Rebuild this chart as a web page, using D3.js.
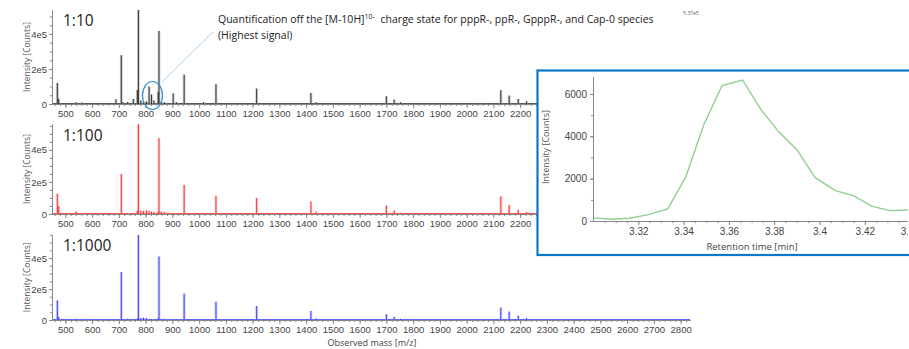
<!DOCTYPE html>
<html>
<head>
<meta charset="utf-8">
<script src="https://cdnjs.cloudflare.com/ajax/libs/d3/7.8.5/d3.min.js"></script>
<style>
  body { margin: 0; background: #fff; }
  svg { display: block; font-family: "Open Sans", sans-serif; }
  .tick text { fill: #444; }
</style>
</head>
<body>
<div id="chart"></div>
<script>
// peak list (m/z) shared by the three dilutions
const peakMz = [470, 475, 540, 562, 689, 709, 715, 733, 754, 769, 773, 782, 792, 803, 813, 822, 831, 847, 850, 858, 870, 884, 903, 915, 944, 1016, 1063, 1215, 1418, 1437, 1700, 1729, 1753, 2040, 2070, 2128, 2159, 2193, 2224, 2260];
const int10 = [1.2e5, 0.3e5, 0.1e5, 0.08e5, 0.27e5, 2.79e5, 0.1e5, 0.12e5, 0.29e5, 0.8e5, 5.37e5, 0.2e5, 0.1e5, 0.15e5, 1.0e5, 0.54e5, 0.2e5, 0.7e5, 4.17e5, 0.12e5, 0.1e5, 0.06e5, 0.6e5, 0.1e5, 1.68e5, 0.1e5, 1.13e5, 0.88e5, 0.63e5, 0.1e5, 0.44e5, 0.25e5, 0.1e5, 0.05e5, 0.05e5, 0.79e5, 0.48e5, 0.29e5, 0.15e5, 0.05e5];
const int100 = [1.26e5, 0.5e5, 0.15e5, 0.06e5, 0.03e5, 2.5e5, 0.05e5, 0.06e5, 0.05e5, 0.2e5, 5.6e5, 0.22e5, 0.2e5, 0.22e5, 0.2e5, 0.15e5, 0.12e5, 0.15e5, 4.73e5, 0.15e5, 0.12e5, 0.08e5, 0.04e5, 0.03e5, 1.82e5, 0.03e5, 1.14e5, 1.0e5, 0.78e5, 0.15e5, 0.53e5, 0.22e5, 0.08e5, 0.03e5, 0.03e5, 1.1e5, 0.56e5, 0.27e5, 0.12e5, 0.04e5];
const int1000 = [1.26e5, 0.2e5, 0.08e5, 0.08e5, 0.03e5, 3.09e5, 0.06e5, 0.08e5, 0.04e5, 0.1e5, 5.49e5, 0.12e5, 0.15e5, 0.12e5, 0.06e5, 0.05e5, 0.05e5, 0.1e5, 4.1e5, 0.08e5, 0.08e5, 0.06e5, 0.03e5, 0.03e5, 1.7e5, 0.03e5, 1.18e5, 0.9e5, 0.59e5, 0.1e5, 0.37e5, 0.2e5, 0.08e5, 0.03e5, 0.03e5, 0.8e5, 0.54e5, 0.28e5, 0.12e5, 0.05e5];

// extracted ion chromatogram in the inset
const rtMin = [3.3003, 3.3084, 3.316, 3.324, 3.333, 3.341, 3.349, 3.357, 3.366, 3.374, 3.382, 3.390, 3.398, 3.407, 3.415, 3.423, 3.431, 3.44];
const eicCounts = [150, 85, 130, 290, 570, 2090, 4570, 6400, 6660, 5280, 4210, 3365, 2060, 1435, 1200, 700, 490, 525];

const massTicks = d3.range(500, 2801, 100);
const intensityTicks = [0, 2e5, 4e5];
const rtTicks = [3.32, 3.34, 3.36, 3.38, 3.4, 3.42, 3.44];
const countTicks = [0, 2000, 4000, 6000];

const W = 909, H = 349;
// inset frame, it hides the right end of the two upper spectra
const box = { x: 537.5, y: 70.5, w: 380, h: 184.5 };

const svg = d3.select('#chart')
  .append('svg')
  .attr('width', W)
  .attr('height', H);

const x = d3.scaleLinear().domain([450, 2835]).range([52, 690]);

const panels = [
  { name: '1:10', values: int10, top: 10, bottom: 104, max: 5.37e5, line: '#111', halo: '#a8a8a8', nameY: 26 },
  { name: '1:100', values: int100, top: 124, bottom: 214, max: 5.62e5, line: '#f01010', halo: '#ffa8a8', nameY: 141 },
  { name: '1:1000', values: int1000, top: 234.5, bottom: 320, max: 5.52e5, line: '#2020f0', halo: '#aaaaff', nameY: 251 }
];

function styleAxis(g) {
  g.select('.domain').attr('stroke', '#888');
  g.selectAll('.tick line').attr('stroke', '#888');
  g.selectAll('.tick text').attr('font-size', 9.5);
}

// minor ticks: no labels at all
function minor(g) {
  styleAxis(g);
  g.selectAll('.tick text').remove();
}

panels.forEach((p, pi) => {
  const y = d3.scaleLinear().domain([0, p.max]).range([p.bottom, p.top]);
  const g = svg.append('g');
  // upper panels only show mass ticks left of the inset
  const shownTicks = pi < 2 ? massTicks.filter(m => x(m) < box.x - 10) : massTicks;

  g.append('g')
    .attr('transform', `translate(0,${p.bottom})`)
    .call(d3.axisBottom(x).tickValues(d3.range(460, 2835, 20)).tickSize(2).tickSizeOuter(0))
    .call(minor);
  g.append('g')
    .attr('transform', `translate(${x.range()[0]},0)`)
    .call(d3.axisLeft(y).tickValues(d3.range(0, p.max, 5e4)).tickSize(2).tickSizeOuter(0))
    .call(minor);

  g.append('g')
    .attr('transform', `translate(0,${p.bottom})`)
    .call(d3.axisBottom(x).tickValues(shownTicks).tickSize(4).tickPadding(2).tickSizeOuter(0).tickFormat(d3.format('d')))
    .call(styleAxis);
  g.append('g')
    .attr('transform', `translate(${x.range()[0]},0)`)
    .call(d3.axisLeft(y).tickValues(intensityTicks).tickSize(3).tickPadding(2).tickSizeOuter(0)
      .tickFormat(d => d === 0 ? '0' : (d / 1e5) + 'e5'))
    .call(styleAxis);

  // spectrum baseline in series colour
  g.append('line')
    .attr('x1', x.range()[0] + 1).attr('x2', x.range()[1])
    .attr('y1', p.bottom - 0.5).attr('y2', p.bottom - 0.5)
    .attr('stroke', p.line).attr('stroke-width', 1).attr('opacity', 0.7);

  const peaks = peakMz.map((m, i) => ({ mz: m, v: p.values[i] }));

  g.append('g').selectAll('rect')
    .data(peaks)
    .join('rect')
    .attr('x', d => x(d.mz) - 1.4)
    .attr('width', 2.8)
    .attr('y', d => y(d.v))
    .attr('height', d => p.bottom - y(d.v))
    .attr('fill', p.halo)
    .attr('opacity', 0.6);

  g.append('g').selectAll('line')
    .data(peaks)
    .join('line')
    .attr('x1', d => x(d.mz)).attr('x2', d => x(d.mz))
    .attr('y1', d => y(d.v)).attr('y2', p.bottom)
    .attr('stroke', p.line)
    .attr('stroke-width', 0.8);

  g.append('text')
    .attr('x', 63).attr('y', p.nameY)
    .attr('font-size', 15.5)
    .attr('fill', '#222')
    .text(p.name);

  g.append('text')
    .attr('transform', `translate(30,${(p.top + p.bottom) / 2}) rotate(-90)`)
    .attr('text-anchor', 'middle')
    .attr('font-size', 8.5)
    .attr('fill', '#555')
    .text('Intensity [Counts]');
});

svg.append('text')
  .attr('x', 372).attr('y', 346)
  .attr('text-anchor', 'middle')
  .attr('font-size', 9)
  .attr('fill', '#444')
  .text('Observed mass [m/z]');

// annotation for the 813 cluster
svg.append('ellipse')
  .attr('cx', 152.5).attr('cy', 95.5)
  .attr('rx', 10).attr('ry', 14)
  .attr('fill', 'none')
  .attr('stroke', '#2e8fd0')
  .attr('stroke-width', 1.2);
svg.append('line')
  .attr('x1', 162).attr('y1', 82)
  .attr('x2', 213).attr('y2', 32)
  .attr('stroke', '#a9d5ef')
  .attr('stroke-width', 1);

const note = svg.append('text')
  .attr('x', 218).attr('y', 23)
  .attr('font-size', 10.5)
  .attr('fill', '#222');
note.append('tspan').text('Quantification off the [M-10H]');
note.append('tspan').attr('font-size', 7).attr('dy', -4).text('10-');
note.append('tspan').attr('dy', 4).attr('dx', 3).text(' charge state for pppR-, ppR-, GpppR-, and Cap-0 species');

svg.append('text')
  .attr('x', 218).attr('y', 38.5)
  .attr('font-size', 10.5)
  .attr('fill', '#222')
  .text('(Highest signal)');

svg.append('text')
  .attr('x', 683).attr('y', 15)
  .attr('font-size', 5)
  .attr('fill', '#555')
  .text('5.37e5');

// inset: EIC of the quantified ion
svg.append('clipPath').attr('id', 'insetClip')
  .append('rect')
  .attr('x', box.x).attr('y', box.y).attr('width', W - box.x - 1).attr('height', box.h);

svg.append('rect')
  .attr('x', box.x).attr('y', box.y)
  .attr('width', box.w).attr('height', box.h)
  .attr('fill', '#fff');

const inset = svg.append('g').attr('clip-path', 'url(#insetClip)');

const xr = d3.scaleLinear().domain([3.3, 3.445]).range([593, 593 + 0.145 * 2265]);
const yc = d3.scaleLinear().domain([0, 6800]).range([221, 77]);

inset.append('g')
  .attr('transform', 'translate(0,221)')
  .call(d3.axisBottom(xr).tickValues(d3.range(3.305, 3.445, 0.005)).tickSize(2).tickSizeOuter(0))
  .call(minor);
inset.append('g')
  .attr('transform', 'translate(593,0)')
  .call(d3.axisLeft(yc).tickValues(d3.range(0, 6800, 1000)).tickSize(2).tickSizeOuter(0))
  .call(minor);

inset.append('g')
  .attr('transform', 'translate(0,221)')
  .call(d3.axisBottom(xr).tickValues(rtTicks).tickSize(4).tickPadding(3).tickSizeOuter(0).tickFormat(d3.format('~g')))
  .call(styleAxis)
  .call(g => g.selectAll('.tick text').attr('font-size', 10));
inset.append('g')
  .attr('transform', 'translate(593,0)')
  .call(d3.axisLeft(yc).tickValues(countTicks).tickSize(3).tickPadding(3).tickSizeOuter(0).tickFormat(d3.format('d')))
  .call(styleAxis)
  .call(g => g.selectAll('.tick text').attr('font-size', 10));

inset.append('path')
  .datum(rtMin.map((t, i) => [t, eicCounts[i]]))
  .attr('fill', 'none')
  .attr('stroke', '#8fd08f')
  .attr('stroke-width', 1.4)
  .attr('d', d3.line().x(d => xr(d[0])).y(d => yc(d[1])));

inset.append('text')
  .attr('transform', 'translate(549,147) rotate(-90)')
  .attr('text-anchor', 'middle')
  .attr('font-size', 9)
  .attr('fill', '#555')
  .text('Intensity [Counts]');

inset.append('text')
  .attr('x', 752).attr('y', 250)
  .attr('text-anchor', 'middle')
  .attr('font-size', 9.5)
  .attr('fill', '#444')
  .text('Retention time [min]');

svg.append('rect')
  .attr('x', box.x).attr('y', box.y)
  .attr('width', box.w).attr('height', box.h)
  .attr('fill', 'none')
  .attr('stroke', '#0a78c8')
  .attr('stroke-width', 2.2);
</script>
</body>
</html>
